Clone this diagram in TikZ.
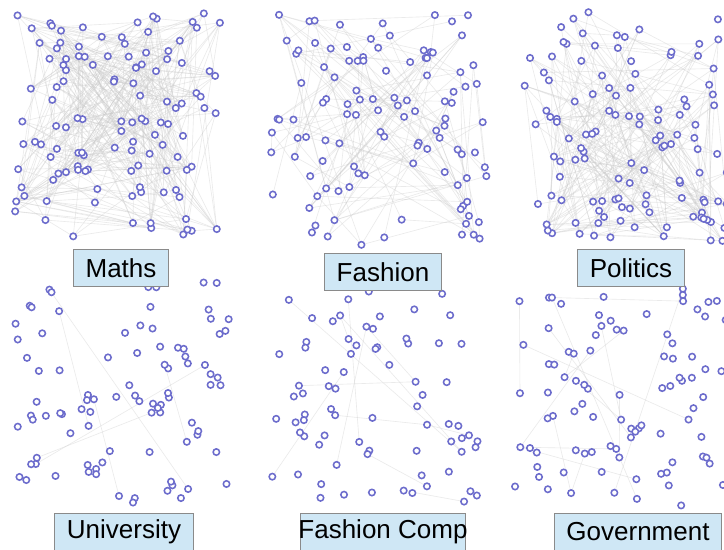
\documentclass[tikz,border=0pt]{standalone}
\usepackage{fontspec}
\setmainfont{Liberation Sans}
\usetikzlibrary{positioning}

\definecolor{dotblue}{HTML}{6C6CCC}
\definecolor{edgegray}{HTML}{CCCCCC}
\definecolor{tagblue}{HTML}{CFE7F5}
\definecolor{taggray}{HTML}{8A8A8A}

% random network: prefix, x0, y0, width, height, dots, edges
\newcommand{\netpanel}[7]{%
  \foreach \i in {1,...,#6}{
    \pgfmathsetmacro\dotx{#2+rnd*#4}
    \pgfmathsetmacro\doty{#3+rnd*#5}
    \coordinate (#1\i) at (\dotx,\doty);
  }
  \foreach \k in {1,...,#7}{
    \pgfmathtruncatemacro\ea{random(1,#6)}
    \pgfmathtruncatemacro\eb{random(1,#6)}
    \draw[link] (#1\ea) -- (#1\eb);
  }
  \foreach \i in {1,...,#6}
    \node[dot] at (#1\i) {};
}

\begin{document}
\begin{tikzpicture}[
    x=0.025cm, y=-0.025cm,
    dot/.style={circle, draw=dotblue, fill=white, line width=1.1pt, minimum size=0.16cm, inner sep=0pt},
    link/.style={draw=edgegray, line width=0.45pt, opacity=0.4},
    tag/.style={draw=taggray, fill=tagblue, line width=0.8pt, minimum height=0.92cm, inner xsep=0.3cm, font=\fontsize{18.5}{22}\selectfont}
]
    \useasboundingbox (0,0) rectangle (724,550);
    \clip (0,0) rectangle (724,550);
    \fill[white] (0,0) rectangle (724,550);
    \pgfmathsetseed{11}

    % top row
    \netpanel{ma}{15}{12}{207}{228}{120}{380}
    \netpanel{fa}{270}{10}{218}{235}{110}{150}
    \netpanel{po}{520}{10}{212}{232}{120}{260}

    % bottom row
    \netpanel{un}{15}{282}{215}{222}{90}{6}
    \netpanel{fc}{270}{290}{212}{215}{75}{12}
    \netpanel{go}{515}{288}{212}{218}{90}{18}

    % labels
    \node[tag] (maths) at (121,268) {Maths};
    \node[tag] (fashion) at (383,272) {Fashion};
    \node[tag] (politics) at (631,268) {Politics};
    \node[tag] (university) at (124,532) {University};
    \node[tag, inner xsep=-0.05cm] (fashioncomp) at (383,532) {Fashion Comp};
    \node[tag] (government) at (638,532) {Government};
\end{tikzpicture}
\end{document}
